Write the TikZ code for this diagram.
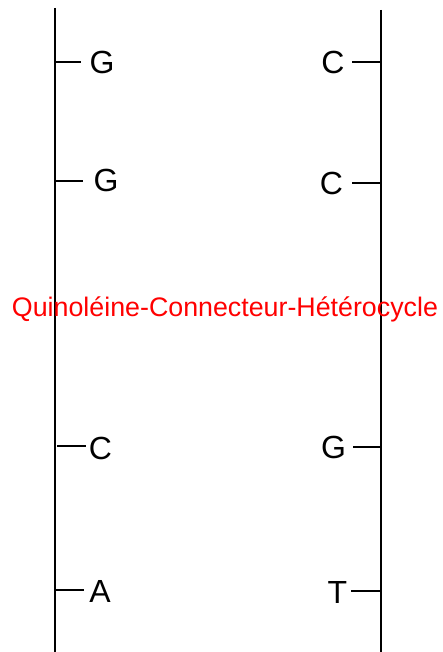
\documentclass[tikz,border=0pt]{standalone}
\usepackage{fontspec}
\setmainfont{Liberation Sans}
\begin{document}
\begin{tikzpicture}[x=1pt,y=-1pt,
  strand/.style={line width=1.8pt,black},
  tick/.style={line width=1.3pt,black},
  base/.style={font=\fontsize{32}{32}\selectfont,inner sep=0pt},
  caption/.style={font=\fontsize{26.8}{26.8}\selectfont,text=red,inner sep=0pt,anchor=base}]
\useasboundingbox (0,0) rectangle (443,652);

% backbone strands
\coordinate (Ltop) at (55,8);
\coordinate (Lbot) at (55,652);
\coordinate (Rtop) at (381,10);
\coordinate (Rbot) at (381,652);
\draw[strand] (Ltop) -- (Lbot);
\draw[strand] (Rtop) -- (Rbot);

% left strand bases
\coordinate (l1a) at (55,62);  \coordinate (l1b) at (81,62);
\coordinate (l2a) at (55,181); \coordinate (l2b) at (83,181);
\coordinate (l3a) at (57,446); \coordinate (l3b) at (86,446);
\coordinate (l4a) at (55,590); \coordinate (l4b) at (84,590);
\draw[tick] (l1a) -- (l1b);
\draw[tick] (l2a) -- (l2b);
\draw[tick] (l3a) -- (l3b);
\draw[tick] (l4a) -- (l4b);
\node[base] (g1) at (102,62) {G};
\node[base] (g2) at (106,180) {G};
\node[base] (c3) at (100.5,448) {C};
\node[base] (a4) at (100,591) {A};

% right strand bases
\coordinate (r1a) at (352,62);  \coordinate (r1b) at (381,62);
\coordinate (r2a) at (352,183); \coordinate (r2b) at (381,183);
\coordinate (r3a) at (353,447); \coordinate (r3b) at (381,447);
\coordinate (r4a) at (351,591); \coordinate (r4b) at (381,591);
\draw[tick] (r1a) -- (r1b);
\draw[tick] (r2a) -- (r2b);
\draw[tick] (r3a) -- (r3b);
\draw[tick] (r4a) -- (r4b);
\node[base] (c1) at (333,62) {C};
\node[base] (c2) at (331.5,183) {C};
\node[base] (g3) at (333.5,447) {G};
\node[base] (t4) at (337.5,592) {T};

% intercalated ligand
\node[caption] (ligand) at (225,316) {Quinoléine-Connecteur-Hétérocycle};
\end{tikzpicture}
\end{document}
